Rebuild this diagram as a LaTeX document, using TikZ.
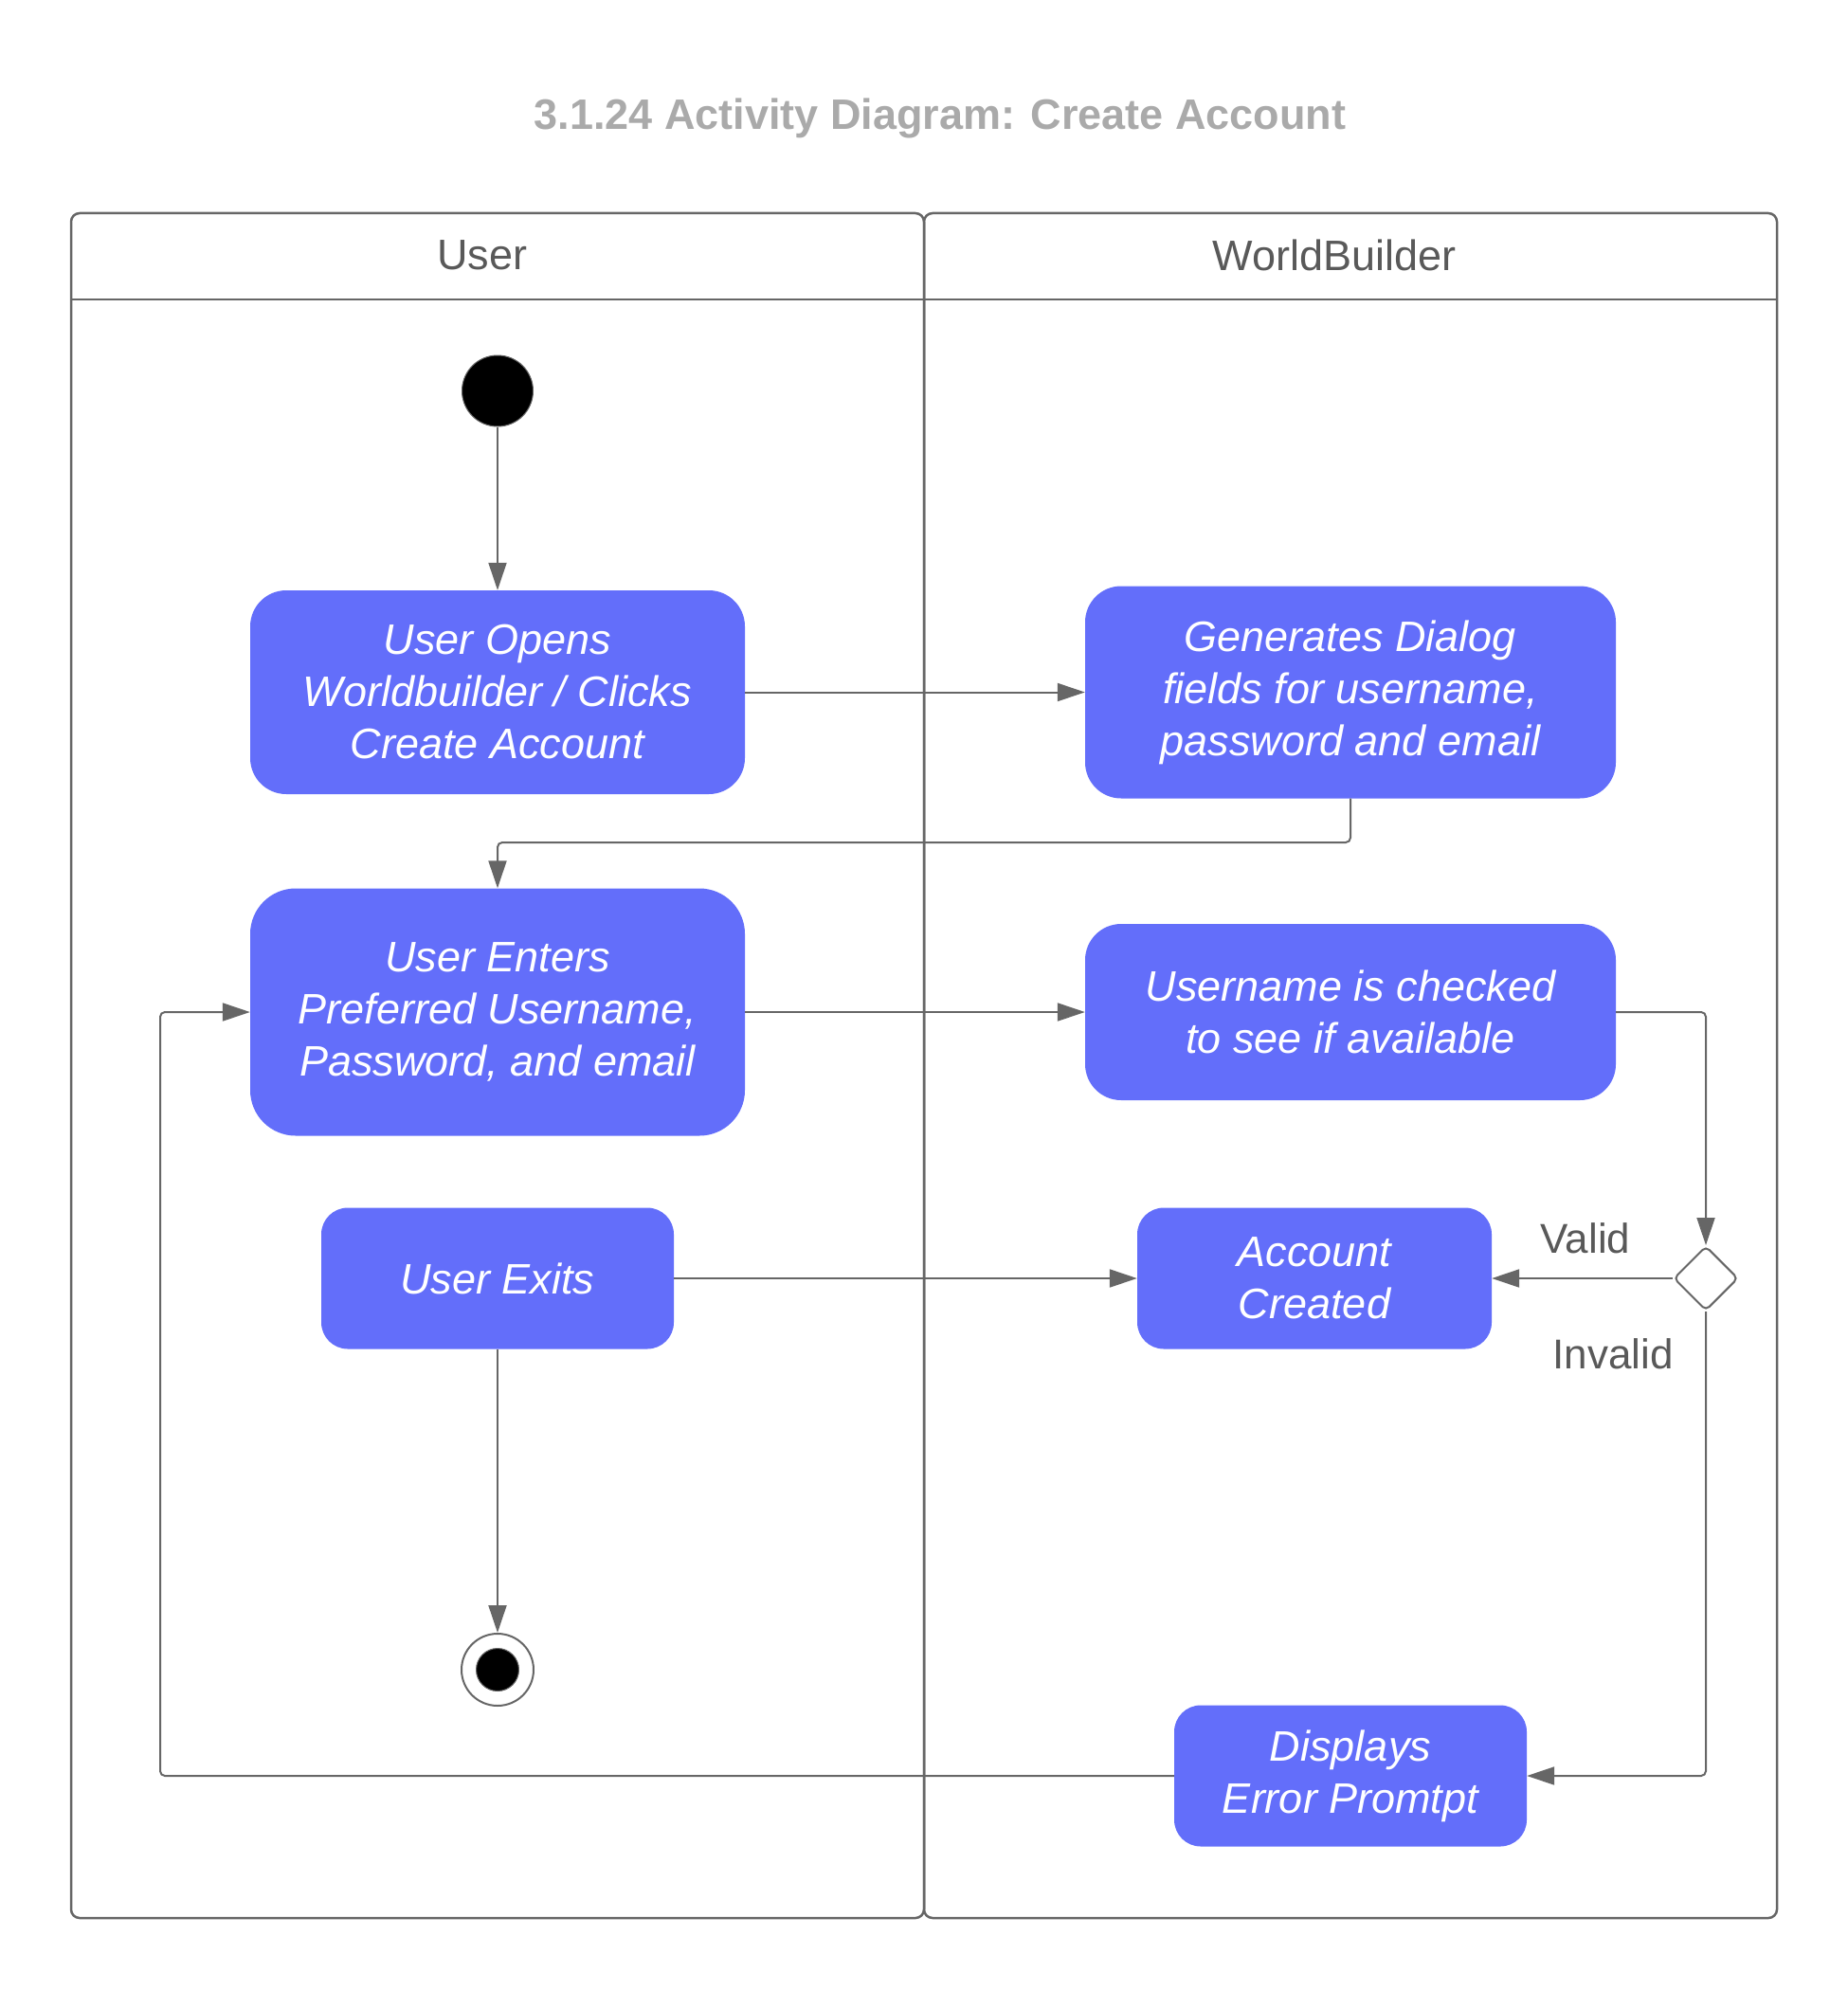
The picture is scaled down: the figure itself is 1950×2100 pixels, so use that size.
\documentclass[tikz,border=0pt]{standalone}
\usepackage{fontspec}
\setmainfont{Liberation Sans}
\usetikzlibrary{arrows.meta,shapes.geometric}
\definecolor{actfill}{RGB}{99,110,250}
\definecolor{linegray}{RGB}{102,102,102}
\definecolor{txtgray}{RGB}{89,89,89}
\definecolor{titlegray}{RGB}{170,170,170}
\tikzset{
  act/.style={fill=actfill, draw=none, text=white, align=center, inner sep=0pt,
    font=\fontsize{45}{55}\selectfont\itshape},
  conn/.style={draw=linegray, line width=2pt, rounded corners=5pt,
    -{Triangle[length=29pt,width=19pt]}},
  lane/.style={draw=linegray, line width=2.5pt, rounded corners=9pt},
  hdr/.style={text=txtgray, font=\fontsize{45}{55}\selectfont},
  lbl/.style={text=txtgray, font=\fontsize{44}{54}\selectfont},
}
\begin{document}
\begin{tikzpicture}[x=1pt,y=-1pt]
\useasboundingbox (0,0) rectangle (1950,2100);
% title
\node[text=titlegray, font=\fontsize{45}{55}\selectfont\bfseries] (title) at (992,125) {3.1.24 Activity Diagram: Create Account};
% swimlanes
\draw[lane] (75,225) rectangle (975,2024);
\draw[lane] (975,225) rectangle (1875,2024);
\draw[draw=linegray, line width=2.5pt] (75,316) -- (1875,316);
\node[hdr] (hUser) at (509,269) {User};
\node[hdr] (hWB) at (1408,269) {WorldBuilder};
% start / end
\node[circle, fill=black, draw=linegray, line width=1pt, minimum size=75pt, inner sep=0pt] (start) at (525,412.5) {};
\node[circle, draw=linegray, line width=2pt, fill=white, minimum size=76pt, inner sep=0pt] (end) at (525,1762) {};
\node[circle, fill=black, draw=linegray, line width=1pt, minimum size=45pt, inner sep=0pt] (endin) at (525,1762) {};
% activities
\node[act, rounded corners=38pt, minimum width=522pt, minimum height=215pt] (A) at (525,730.5)
  {User Opens\\Worldbuilder / Clicks\\Create Account};
\node[act, rounded corners=38pt, minimum width=560pt, minimum height=224pt] (B) at (1425,730.5)
  {Generates Dialog\\fields for username,\\password and email};
\node[act, rounded corners=48pt, minimum width=522pt, minimum height=261pt] (C) at (525,1068)
  {User Enters\\Preferred Username,\\Password, and email};
\node[act, rounded corners=38pt, minimum width=560pt, minimum height=186pt] (D) at (1425,1068)
  {Username is checked\\to see if available};
\node[act, rounded corners=28pt, minimum width=374pt, minimum height=149pt] (E) at (1387,1349)
  {Account\\Created};
\node[act, rounded corners=28pt, minimum width=372pt, minimum height=149pt] (F) at (525,1349)
  {User Exits};
\node[act, rounded corners=28pt, minimum width=372pt, minimum height=149pt] (G) at (1425,1874)
  {Displays\\Error Promtpt};
\node[diamond, draw=linegray, line width=2pt, fill=white, rounded corners=5pt, minimum size=68pt, inner sep=0pt] (dia) at (1800,1349) {};
% labels
\node[lbl] (valid) at (1673,1307) {Valid};
\node[lbl] (invalid) at (1702,1429) {Invalid};
% helper coordinates
\coordinate (k1) at (525,889);
\coordinate (k3) at (169,1068);
% connectors
\draw[conn] (start) -- (A);
\draw[conn] (A.east) -- (B.west);
\draw[conn] (B.south) |- (k1) -- (C.north);
\draw[conn] (C.east) -- (D.west);
\draw[conn] (D.east) -| (dia.north);
\draw[conn] (dia.west) -- (E.east);
\draw[conn] (F.east) -- (E.west);
\draw[conn] (F.south) -- (end);
\draw[conn] (dia.south) |- (G.east);
\draw[conn] (G.west) -| (k3) -- (C.west);
\end{tikzpicture}
\end{document}
